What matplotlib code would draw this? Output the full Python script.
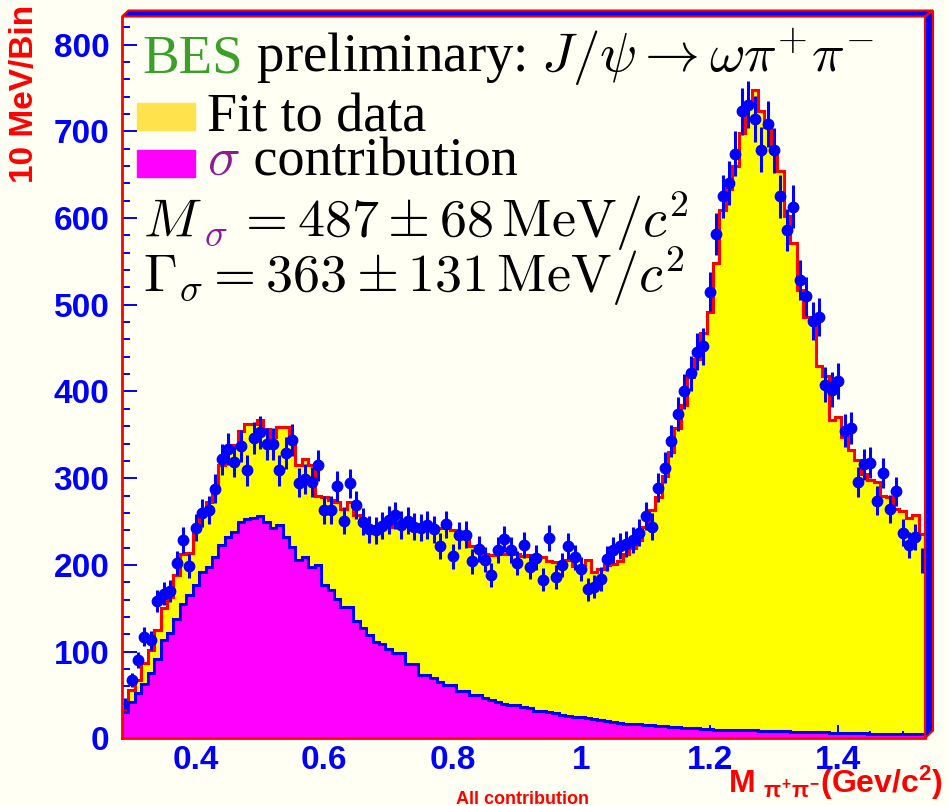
import matplotlib.pyplot as plt
import numpy as np
from matplotlib.patches import Polygon, Rectangle
from matplotlib.ticker import MultipleLocator
from matplotlib.transforms import IdentityTransform

plt.rcParams['font.family'] = 'Liberation Sans'
plt.rcParams['mathtext.fontset'] = 'custom'
plt.rcParams['mathtext.rm'] = 'Liberation Sans:bold'
plt.rcParams['mathtext.it'] = 'Liberation Sans:bold'
plt.rcParams['mathtext.bf'] = 'Liberation Sans:bold'

# M(pi+ pi-) spectrum, 10 MeV bins starting at 0.285 GeV
x_lo = 0.285
bin_w = 0.01

data = [40, 67, 90, 117, 113, 158, 167, 170, 202, 229,
        199, 243, 260, 263, 288, 322, 334, 319, 337, 309,
        346, 353, 340, 340, 309, 329, 344, 295, 299, 296,
        315, 263, 263, 291, 251, 294, 269, 250, 241, 240,
        245, 252, 257, 246, 251, 244, 243, 246, 241, 222,
        247, 210, 234, 235, 204, 218, 206, 188, 217, 230,
        217, 202, 223, 198, 208, 183, 231, 186, 200, 222,
        209, 195, 172, 175, 184, 207, 217, 222, 224, 229,
        237, 256, 244, 289, 312, 343, 374, 400, 421, 446,
        452, 515, 582, 625, 640, 674, 723, 731, 714, 679,
        709, 678, 625, 586, 613, 529, 510, 481, 486, 408,
        402, 412, 355, 358, 296, 316, 318, 274, 306, 264,
        285, 237, 223, 232, 205]

fit = [33, 56, 67, 87, 102, 125, 150, 163, 188, 212,
       214, 240, 262, 272, 287, 315, 336, 338, 355, 362,
       362, 367, 357, 348, 359, 359, 344, 315, 322, 315,
       280, 278, 275, 273, 265, 272, 258, 247, 245, 245,
       245, 244, 246, 245, 245, 245, 244, 244, 243, 242,
       242, 240, 233, 231, 222, 220, 212, 211, 212, 213,
       213, 213, 210, 211, 210, 209, 204, 203, 202, 206,
       199, 197, 206, 192, 195, 200, 201, 204, 212, 220,
       229, 244, 263, 278, 302, 330, 358, 385, 417, 438,
       467, 492, 548, 609, 634, 660, 698, 732, 748, 723,
       705, 680, 654, 602, 571, 517, 486, 486, 429, 418,
       367, 371, 348, 333, 321, 305, 298, 296, 280, 278,
       265, 262, 254, 257, 236]

sigma = [30, 42, 52, 63, 75, 92, 113, 121, 138, 155,
         165, 177, 192, 198, 209, 223, 232, 238, 250, 253,
         254, 256, 250, 242, 246, 232, 221, 206, 209, 198,
         200, 177, 171, 161, 152, 152, 135, 127, 119, 111,
         109, 103, 98, 98, 86, 86, 73, 73, 69, 65,
         61, 61, 55, 55, 50, 50, 46, 44, 42, 40,
         38, 38, 36, 35, 32, 31, 30, 29, 27, 26,
         25, 24, 23, 22, 21, 20, 19, 18, 17, 17,
         16, 15, 15, 14, 14, 13, 13, 12, 12, 12,
         11, 11, 10, 10, 10, 9, 9, 9, 9, 8,
         8, 8, 8, 8, 7, 7, 7, 7, 7, 7,
         6, 6, 6, 6, 6, 6, 5, 5, 5, 5,
         5, 5, 5, 5, 5]

x_ticks = [0.4, 0.6, 0.8, 1.0, 1.2, 1.4]
x_labels = ['0.4', '0.6', '0.8', '1', '1.2', '1.4']
y_ticks = [0, 100, 200, 300, 400, 500, 600, 700, 800]

data = np.array(data, dtype=float)
edges = x_lo + bin_w * np.arange(len(fit) + 1)
centers = edges[:-1] + bin_w / 2

BG = '#fffff3'
W, H = 949, 806


def fx(x):
    return x / W


def fy(y):
    return 1 - y / H


fig = plt.figure(figsize=(9.49, 8.06), dpi=100, facecolor=BG)
ax = fig.add_axes([fx(122), fy(738.3), (925 - 122) / W, (738.3 - 16.5) / H])
ax.set_facecolor(BG)

ax.stairs(fit, edges, fill=True, color='#ffff00', zorder=1)
ax.stairs(sigma, edges, fill=True, color='#ff00ff', zorder=2)
ax.stairs(fit, edges, color='#ff0000', lw=2.2, zorder=3)
ax.stairs(sigma, edges, color='#0000ff', lw=2.2, zorder=3)
ax.errorbar(centers, data, yerr=np.sqrt(data), fmt='o', color='#0000ff',
            ms=7.5, elinewidth=2.2, capsize=0, markevery=slice(1, -1), zorder=4)

ax.set_xlim(edges[0], edges[-1])
ax.set_ylim(0, (738.3 - 16.5) / 0.867)

ax.set_xticks(x_ticks, x_labels)
ax.set_yticks(y_ticks)
ax.xaxis.set_minor_locator(MultipleLocator(0.05))
ax.yaxis.set_minor_locator(MultipleLocator(20))
ax.tick_params(axis='both', which='both', direction='in', color='#0000ff',
               labelcolor='#0000ff', width=1.4, labelsize=24)
ax.tick_params(axis='y', which='major', length=11, pad=9)
ax.tick_params(axis='y', which='minor', length=5.5)
ax.tick_params(axis='x', which='major', length=9.6, pad=5)
ax.tick_params(axis='x', which='minor', length=4.8)
for lab in ax.get_xticklabels() + ax.get_yticklabels():
    lab.set_fontweight('bold')

for side in ['top', 'right']:
    ax.spines[side].set_visible(False)
for side in ['left', 'bottom']:
    ax.spines[side].set_color('#ff0000')
    ax.spines[side].set_linewidth(2)
    ax.spines[side].set_zorder(5)

# raised frame along the top and right edges
ident = IdentityTransform()
top_band = [(122, 16.5), (925, 16.5), (933, 10.5), (128.5, 10.5)]
right_band = [(925, 16.5), (933, 10.5), (933, 730.5), (925, 738.3)]
for band in [top_band, right_band]:
    pts = [(x, H - y) for x, y in band]
    fig.add_artist(Polygon(pts, closed=True, facecolor='#0000ff',
                           edgecolor='#ff0000', lw=1.5, transform=ident))

fig.text(fx(25), fy(5), '10 MeV/Bin', rotation=90, ha='center', va='top',
         color='#ff0000', fontweight='bold', fontsize=24)
fig.text(fx(943), fy(793), r'M ${}_{\pi^{+}\pi^{-}}$(Gev/c$^{2}$)',
         ha='right', va='baseline', color='#ff0000', fontweight='bold',
         fontsize=23, math_fontfamily='custom')
fig.text(fx(523), fy(804.5), 'All contribution', ha='center', va='baseline',
         color='#ff0000', fontweight='bold', fontsize=13)


def chain(pieces, x, y, size):
    """Write text pieces one after another on a shared baseline."""
    prev = None
    for s, color, family in pieces:
        kw = dict(color=color, family=family, fontsize=size, va='baseline',
                  ha='left', math_fontfamily='cm', annotation_clip=False)
        if prev is None:
            prev = ax.annotate(s, xy=(fx(x), fy(y)), xycoords='figure fraction', **kw)
        else:
            prev = ax.annotate(s, xy=(1, fy(y)), xycoords=(prev, 'figure fraction'), **kw)
    return prev


serif = 'Liberation Serif'
chain([('BES', '#3aa02a', serif),
       (r' preliminary: $J/\psi\rightarrow\omega\pi^{+}\pi^{-}$', 'black', serif)],
      142, 72.5, 39.5)

fig.add_artist(Rectangle((fx(137), fy(130)), 58 / W, 27 / H, color='#ffe24c',
                         transform=fig.transFigure))
fig.add_artist(Rectangle((fx(137), fy(177)), 58 / W, 27 / H, color='#ff00ff',
                         transform=fig.transFigure))
chain([('Fit to data', 'black', serif)], 207, 131, 39)
chain([(r'$\sigma$', '#8c1c96', serif), (' contribution', 'black', serif)],
      207, 175, 39)

chain([(r'$M$', 'black', serif), (r'${}_{\sigma}$', '#8c1c96', serif),
       (r'$\,=487\pm68\,\mathrm{MeV}/c^{2}$', 'black', serif)], 143, 237, 39)
chain([(r'$\Gamma_{\sigma}=363\pm131\,\mathrm{MeV}/c^{2}$', 'black', serif)],
      143, 292, 39)

fig.savefig('out.png', dpi=100, facecolor=BG)
plt.close(fig)
